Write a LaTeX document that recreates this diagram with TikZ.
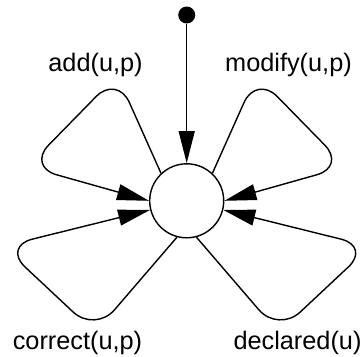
\documentclass[tikz,border=0pt]{standalone}
\usepackage{fontspec}
\setmainfont{Liberation Sans}
\usetikzlibrary{arrows.meta}
\begin{document}
\begin{tikzpicture}[x=1pt,y=-1pt,
  line width=1.4pt,
  state/.style={circle,draw,minimum size=74pt,inner sep=0pt},
  startdot/.style={circle,fill=black,minimum size=17pt,inner sep=0pt},
  lbl/.style={anchor=base,inner sep=0pt,font=\fontsize{25.3}{30}\selectfont},
  tr/.style={-{Triangle[length=32pt,width=16pt]}},
  loopline/.style={tr,rounded corners=30pt}]
\useasboundingbox (0,0) rectangle (363,356);
\node[state] (s) at (186.7,200.8) {};
\node[startdot] (i) at (186.7,15) {};
\draw[tr] (i) -- (s);
% corners of the self loops
\coordinate (a1) at (117.1,75.1);
\coordinate (a2) at (27.6,166.6);
\coordinate (m1) at (256.3,75.1);
\coordinate (m2) at (345.8,166.6);
\coordinate (c1) at (95,332.5);
\coordinate (c2) at (3.1,246.4);
\coordinate (d1) at (278.4,332.5);
\coordinate (d2) at (370.3,246.4);
\draw[loopline] (s.133) -- (a1) -- (a2) -- (s.180);
\draw[loopline] (s.47) -- (m1) -- (m2) -- (s.0);
\draw[loopline] (s.255) -- (c1) -- (c2) -- (s.194);
\draw[loopline] (s.285) -- (d1) -- (d2) -- (s.346);
\node[lbl] (la) at (95.5,71) {add(u,p)};
\node[lbl] (lm) at (288.5,71) {modify(u,p)};
\node[lbl] (lc) at (77.5,349.5) {correct(u,p)};
\node[lbl] (ld) at (297.5,349.5) {declared(u)};
\end{tikzpicture}
\end{document}
